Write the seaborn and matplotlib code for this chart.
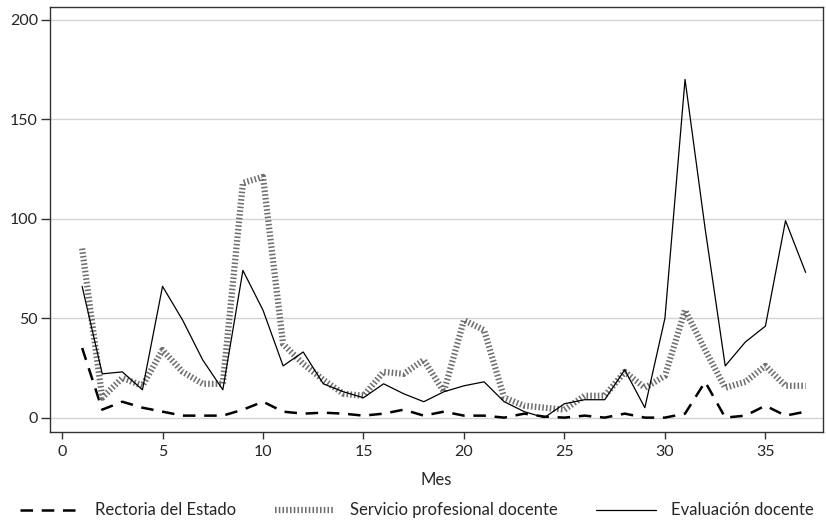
import pandas as pd
import matplotlib
matplotlib.use("Agg")
import matplotlib.pyplot as plt
import seaborn as sns

# Monthly counts
mes = list(range(1, 38))
rectoria = [35, 4, 8, 5, 3, 1, 1, 1, 4, 8, 3, 2, 2.5, 2, 1, 2, 4, 1, 3, 1,
            1, 0, 2, 0.5, 0, 1, 0, 2, 0, 0, 2, 18, 0, 1, 6, 1, 3]
servicio = [85, 10, 20, 16, 34, 23, 17, 17, 118, 121, 37, 27, 19, 12, 11, 23, 22, 29, 13, 49,
            44, 10, 6, 5, 4, 11, 11, 23, 15, 21, 54, 34, 15, 18, 26, 16, 16]
evaluacion = [66, 22, 23, 14, 66, 49, 29, 14, 74, 54, 26, 33, 17, 13, 10, 17, 12, 8, 13, 16,
              18, 8, 3, 0, 7, 9, 9, 24, 5, 50, 170, 95, 26, 38, 46, 99, 73]
series_names = ["Rectoria del Estado", "Servicio profesional docente", "Evaluación docente"]

df = pd.DataFrame({"Mes": mes, series_names[0]: rectoria,
                   series_names[1]: servicio, series_names[2]: evaluacion})

sns.set_style("white")
plt.rcParams['font.family'] = ['Lato', 'DejaVu Sans']

fig = plt.figure(figsize=(8.26, 5.25), dpi=100)
ax = fig.add_axes([0.061, 0.178, 0.935, 0.809])

styles = {
    series_names[0]: dict(color="black", linewidth=1.8, linestyle=(0, (5, 3.5))),
    series_names[1]: dict(color="#6e6e6e", linewidth=4.5, linestyle=(0, (0.25, 0.35))),
    series_names[2]: dict(color="black", linewidth=0.9, linestyle="-"),
}
for name in series_names:
    sns.lineplot(data=df, x="Mes", y=name, ax=ax, label=name, **styles[name])

ax.set_xlim(-0.58, 37.85)
ax.set_ylim(-7, 206.5)
ax.set_xticks(range(0, 40, 5))
ax.set_yticks(range(0, 201, 50))
ax.yaxis.grid(True, color="#d4d4d4", linewidth=1)
ax.set_axisbelow(True)
for s in ax.spines.values():
    s.set_color("#333333")
    s.set_linewidth(1)
ax.tick_params(axis="both", direction="out", width=1, color="#333333",
               labelsize=11.5, left=True, bottom=True)
ax.tick_params(axis="x", length=5, pad=5)
ax.tick_params(axis="y", length=6.5, pad=2.5)
ax.set_xlabel("Mes", fontsize=12, labelpad=9)
ax.set_ylabel("")

handles, labels = ax.get_legend_handles_labels()
ax.get_legend().remove()
fig.legend(handles, labels, loc="lower center", ncol=3, frameon=False, fontsize=12,
           bbox_to_anchor=(0.505, -0.016), handlelength=3.6, handletextpad=0.9,
           columnspacing=2.3)

fig.savefig("out.png", dpi=100)
